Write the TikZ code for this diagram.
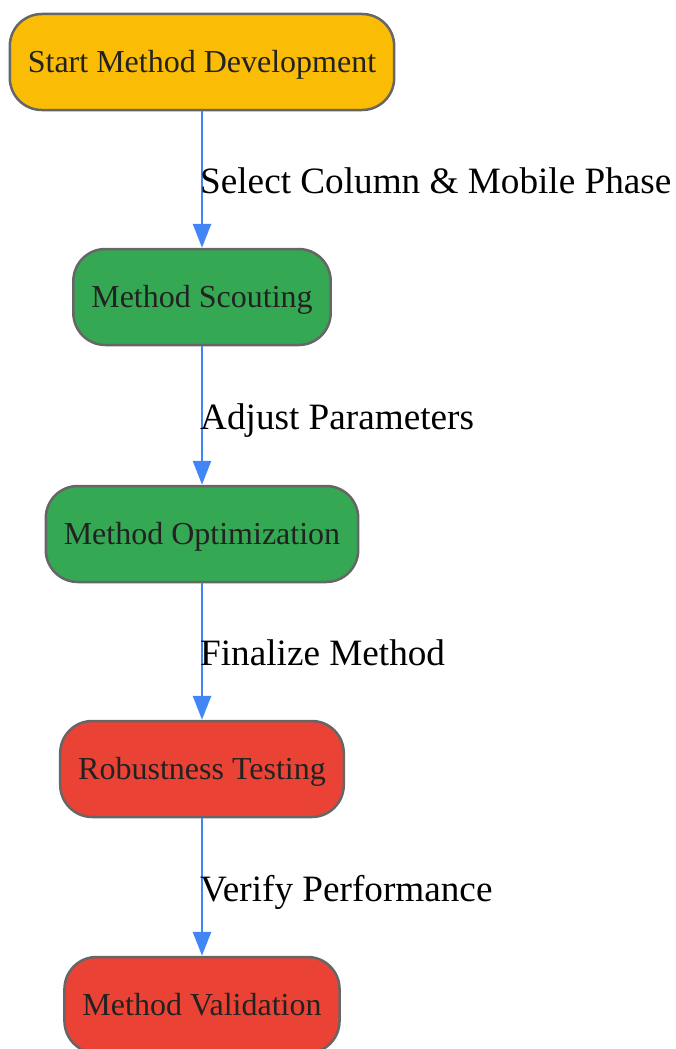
\documentclass[tikz,border=0pt]{standalone}
\usepackage{fontspec}
\setmainfont{Liberation Serif}
\usetikzlibrary{arrows.meta}
\definecolor{cyel}{HTML}{FABC05}
\definecolor{cgrn}{HTML}{34A853}
\definecolor{cred}{HTML}{EA4335}
\definecolor{cedge}{HTML}{4285F4}
\definecolor{cbord}{HTML}{666666}
\definecolor{ctext}{HTML}{222222}
\tikzset{
  stepbox/.style={draw=cbord, line width=2.5pt, rounded corners=32pt, minimum height=96pt, inner xsep=18pt, text height=29pt, text depth=8pt, text=ctext, font=\fontsize{32}{36}\selectfont},
  flow/.style={draw=cedge, line width=2.8pt, -{Triangle[length=24pt,width=18pt]}},
  elabel/.style={anchor=base west, inner sep=0pt, text=black, font=\fontsize{37.2}{42}\selectfont}
}
\begin{document}
\begin{tikzpicture}[x=1pt,y=-1pt]
\useasboundingbox (0,0) rectangle (675,1049);
\clip (0,0) rectangle (675,1049);
\node[stepbox, fill=cyel] (start) at (202,62) {Start Method Development};
\node[stepbox, fill=cgrn] (scout) at (202,297) {Method Scouting};
\node[stepbox, fill=cgrn] (opt) at (202,534) {Method Optimization};
\node[stepbox, fill=cred] (rob) at (202,769) {Robustness Testing};
\node[stepbox, fill=cred] (val) at (202,1005) {Method Validation};
\draw[flow] (start) -- (scout);
\draw[flow] (scout) -- (opt);
\draw[flow] (opt) -- (rob);
\draw[flow] (rob) -- (val);
\node[elabel] (l1) at (200,193.5) {Select Column \& Mobile Phase};
\node[elabel] (l2) at (200,429.5) {Adjust Parameters};
\node[elabel] (l3) at (200,665.5) {Finalize Method};
\node[elabel] (l4) at (200,901.5) {Verify Performance};
\end{tikzpicture}
\end{document}
